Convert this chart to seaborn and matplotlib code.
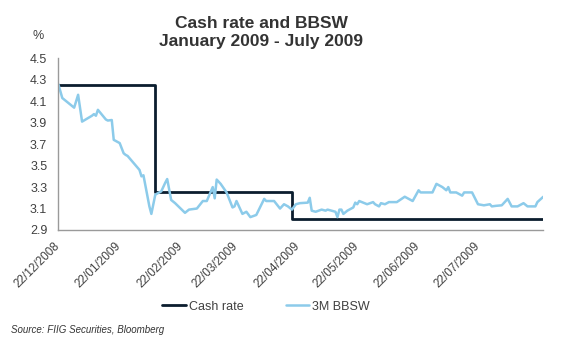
import matplotlib
matplotlib.use("Agg")
import matplotlib.pyplot as plt
import matplotlib.transforms as mtransforms
import numpy as np
import pandas as pd
import seaborn as sns

# Official cash rate (%), level set on each change date
cash_dates = ["2008-12-22", "2009-02-09", "2009-04-19", "2009-08-24"]
cash_rate = [4.25, 3.25, 3.00, 3.00]

# 3-month bank bill swap rate (%)
bbsw_dates = [
    "2008-12-22", "2008-12-24", "2008-12-30", "2009-01-01", "2009-01-03",
    "2009-01-08", "2009-01-09", "2009-01-10", "2009-01-11", "2009-01-15",
    "2009-01-16", "2009-01-18", "2009-01-19", "2009-01-22", "2009-01-24",
    "2009-01-25", "2009-01-26", "2009-02-01", "2009-02-02", "2009-02-03",
    "2009-02-06", "2009-02-07", "2009-02-09", "2009-02-12", "2009-02-14",
    "2009-02-15", "2009-02-17", "2009-02-19", "2009-02-24", "2009-02-26",
    "2009-03-02", "2009-03-05", "2009-03-07", "2009-03-10", "2009-03-11",
    "2009-03-12", "2009-03-14", "2009-03-17", "2009-03-20", "2009-03-21",
    "2009-03-22", "2009-03-25", "2009-03-27", "2009-03-29", "2009-04-01",
    "2009-04-05", "2009-04-06", "2009-04-10", "2009-04-13", "2009-04-15",
    "2009-04-17", "2009-04-19", "2009-04-21", "2009-04-23", "2009-04-27",
    "2009-04-28", "2009-04-29", "2009-05-01", "2009-05-04", "2009-05-06",
    "2009-05-07", "2009-05-11", "2009-05-12", "2009-05-13", "2009-05-14",
    "2009-05-15", "2009-05-17", "2009-05-20", "2009-05-21", "2009-05-22",
    "2009-05-23", "2009-05-27", "2009-05-30", "2009-05-31", "2009-06-02",
    "2009-06-03", "2009-06-05", "2009-06-07", "2009-06-11", "2009-06-15",
    "2009-06-19", "2009-06-22", "2009-06-23", "2009-06-29", "2009-07-01",
    "2009-07-04", "2009-07-06", "2009-07-07", "2009-07-08", "2009-07-11",
    "2009-07-14", "2009-07-15", "2009-07-19", "2009-07-22", "2009-07-25",
    "2009-07-28", "2009-07-29", "2009-07-31", "2009-08-03", "2009-08-06",
    "2009-08-08", "2009-08-11", "2009-08-14", "2009-08-16", "2009-08-20",
    "2009-08-21", "2009-08-24",
]
bbsw_rate = [
    4.26, 4.13, 4.04, 4.16, 3.91,
    3.965, 3.98, 3.965, 4.02, 3.93,
    3.92, 3.925, 3.74, 3.71, 3.615,
    3.60, 3.59, 3.46, 3.40, 3.41,
    3.12, 3.05, 3.23, 3.26, 3.34,
    3.375, 3.18, 3.15, 3.06, 3.09,
    3.10, 3.17, 3.17, 3.30, 3.195,
    3.37, 3.33, 3.25, 3.11, 3.12,
    3.17, 3.05, 3.07, 3.02, 3.04,
    3.19, 3.17, 3.17, 3.10, 3.14,
    3.12, 3.09, 3.14, 3.15, 3.155,
    3.20, 3.08, 3.07, 3.09, 3.08,
    3.09, 3.07, 3.02, 3.09, 3.09,
    3.05, 3.08, 3.11, 3.155, 3.14,
    3.17, 3.14, 3.16, 3.14, 3.12,
    3.15, 3.14, 3.16, 3.16, 3.21,
    3.17, 3.27, 3.25, 3.25, 3.33,
    3.30, 3.27, 3.30, 3.25, 3.25,
    3.22, 3.25, 3.25, 3.14, 3.13,
    3.14, 3.12, 3.125, 3.13, 3.19,
    3.12, 3.12, 3.15, 3.12, 3.12,
    3.16, 3.21,
]

tick_dates = ["2008-12-22", "2009-01-22", "2009-02-22", "2009-03-22",
              "2009-04-22", "2009-05-22", "2009-06-22", "2009-07-22"]
y_ticks = [2.9, 3.1, 3.3, 3.5, 3.7, 3.9, 4.1, 4.3, 4.5]

cash_df = pd.DataFrame({"date": pd.to_datetime(cash_dates), "rate": cash_rate})
bbsw_df = pd.DataFrame({"date": pd.to_datetime(bbsw_dates), "rate": bbsw_rate})

sns.set_theme(style="white")
plt.rcParams["font.family"] = ["Liberation Sans", "DejaVu Sans"]

text_col = "#404040"
fig = plt.figure(figsize=(5.78, 3.42), dpi=100)
ax = fig.add_axes([0.1009, 0.3275, 0.8391, 0.502])

sns.lineplot(data=cash_df, x="date", y="rate", ax=ax, color="#0b1d2e",
             linewidth=2.0, drawstyle="steps-post", label="Cash rate")
sns.lineplot(data=bbsw_df, x="date", y="rate", ax=ax, color="#8ccbea",
             linewidth=1.8, label="3M BBSW")

ax.set_xlim(pd.Timestamp("2008-12-22"), pd.Timestamp("2009-08-24"))
ax.set_ylim(2.9, 4.5)
ax.set_yticks(y_ticks)
ax.set_yticklabels([f"{v:.1f}" for v in y_ticks])
ax.set_xticks(pd.to_datetime(tick_dates))
ax.set_xticklabels([pd.Timestamp(d).strftime("%d/%m/%Y") for d in tick_dates])
ax.set_xlabel("")
ax.set_ylabel("")

ax.tick_params(axis="y", length=0, pad=8, labelsize=9, labelcolor=text_col)
ax.tick_params(axis="x", length=0, pad=7, labelsize=8.5, labelcolor=text_col)
shift = mtransforms.ScaledTranslation(-0.045, 0, fig.dpi_scale_trans)
for lbl in ax.get_xticklabels():
    lbl.set_rotation(45)
    lbl.set_ha("right")
    lbl.set_va("top")
    lbl.set_rotation_mode("anchor")
    lbl.set_transform(lbl.get_transform() + shift)

for side in ["top", "right"]:
    ax.spines[side].set_visible(False)
for side in ["left", "bottom"]:
    ax.spines[side].set_color("#9a9a9a")
    ax.spines[side].set_linewidth(1.0)

leg = ax.legend(loc="center", bbox_to_anchor=(0.46, 0.103),
                bbox_transform=fig.transFigure, ncol=2, frameon=False,
                fontsize=9, handlelength=1.9, handletextpad=0.2,
                columnspacing=3.4)
for t in leg.get_texts():
    t.set_color(text_col)

fig.text(0.452, 0.952, "Cash rate and BBSW\nJanuary 2009 - July 2009",
         ha="center", va="top", fontsize=12.5, fontweight="bold",
         color="#333333", linespacing=1.2)
fig.text(38 / 578, 1 - 36 / 342, "%", ha="center", va="center",
         fontsize=9, color=text_col)
fig.text(11 / 578, 1 - 330 / 342, "Source: FIIG Securities, Bloomberg",
         ha="left", va="center", fontsize=7, style="italic", color="#333333")

fig.savefig("out.png", dpi=100)
